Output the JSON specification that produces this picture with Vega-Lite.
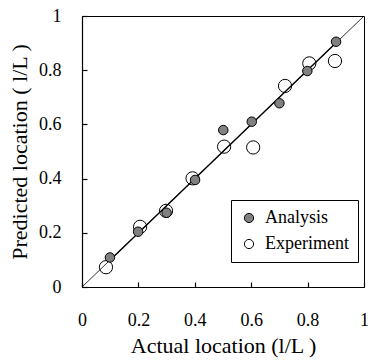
{
  "$schema": "https://vega.github.io/schema/vega-lite/v6.json",
  "width": 282,
  "height": 271,
  "autosize": {"type": "none"},
  "padding": {"left": 82, "top": 16, "right": 4, "bottom": 76},
  "background": "white",
  "config": {
    "font": "Liberation Serif",
    "view": {"stroke": "black", "strokeWidth": 1},
    "axis": {
      "grid": false,
      "zindex": 1,
      "domainColor": "black",
      "domainWidth": 1.2,
      "tickColor": "black",
      "tickWidth": 1.2,
      "tickSize": -5,
      "labelFont": "Liberation Serif",
      "labelFontSize": 18,
      "labelColor": "black",
      "titleFont": "Liberation Serif",
      "titleFontSize": 22,
      "titleFontWeight": "normal",
      "titleColor": "black"
    },
    "legend": {
      "labelFont": "Liberation Serif",
      "labelFontSize": 18,
      "labelColor": "black"
    }
  },
  "datasets": {
    "pts": [
      {"series": "Experiment", "actual": 0.085, "predicted": 0.073},
      {"series": "Experiment", "actual": 0.206, "predicted": 0.222},
      {"series": "Experiment", "actual": 0.298, "predicted": 0.281},
      {"series": "Experiment", "actual": 0.392, "predicted": 0.401},
      {"series": "Experiment", "actual": 0.504, "predicted": 0.518},
      {"series": "Experiment", "actual": 0.607, "predicted": 0.515},
      {"series": "Experiment", "actual": 0.72, "predicted": 0.742},
      {"series": "Experiment", "actual": 0.806, "predicted": 0.825},
      {"series": "Experiment", "actual": 0.897, "predicted": 0.834},
      {"series": "Analysis", "actual": 0.099, "predicted": 0.109},
      {"series": "Analysis", "actual": 0.199, "predicted": 0.204},
      {"series": "Analysis", "actual": 0.3, "predicted": 0.274},
      {"series": "Analysis", "actual": 0.401, "predicted": 0.395},
      {"series": "Analysis", "actual": 0.501, "predicted": 0.579},
      {"series": "Analysis", "actual": 0.602, "predicted": 0.61},
      {"series": "Analysis", "actual": 0.7, "predicted": 0.678},
      {"series": "Analysis", "actual": 0.799, "predicted": 0.797},
      {"series": "Analysis", "actual": 0.901, "predicted": 0.905}
    ],
    "diag": [
      {"actual": 0, "predicted": 0},
      {"actual": 1, "predicted": 1}
    ],
    "fit": [
      {"actual": 0.1, "predicted": 0.1},
      {"actual": 0.9, "predicted": 0.9}
    ]
  },
  "encoding": {
    "x": {
      "field": "actual", "type": "quantitative",
      "scale": {"domain": [0, 1], "nice": false},
      "axis": {"values": [0, 0.2, 0.4, 0.6, 0.8, 1], "format": "~g", "labelPadding": 29, "title": "Actual location (l/L )", "titlePadding": 6, "labelFlush": false}
    },
    "y": {
      "field": "predicted", "type": "quantitative",
      "scale": {"domain": [0, 1], "nice": false},
      "axis": {"values": [0, 0.2, 0.4, 0.6, 0.8, 1], "format": "~g", "labelPadding": 26, "title": "Predicted location ( l/L )", "titlePadding": 7, "labelFlush": false}
    }
  },
  "layer": [
    {
      "data": {"name": "diag"},
      "mark": {"type": "line", "color": "black", "strokeWidth": 0.8}
    },
    {
      "data": {"name": "fit"},
      "mark": {"type": "line", "color": "black", "strokeWidth": 1.4}
    },
    {
      "data": {"name": "pts"},
      "transform": [{"filter": "datum.series === 'Experiment'"}],
      "mark": {"type": "point", "shape": "circle", "filled": true, "stroke": "black", "strokeWidth": 1, "opacity": 1, "size": 175},
      "encoding": {
        "fill": {
          "field": "series", "type": "nominal",
          "scale": {"domain": ["Analysis", "Experiment"], "range": ["#808080", "transparent"]},
          "legend": {
            "title": null,
            "orient": "none",
            "legendX": 149,
            "legendY": 184,
            "direction": "vertical",
            "strokeColor": "black",
            "fillColor": "white",
            "padding": 9,
            "rowPadding": 8,
            "labelOffset": 7,
            "labelFont": "Liberation Serif",
            "symbolType": "circle",
            "symbolSize": 85,
            "symbolStrokeColor": "black",
            "symbolStrokeWidth": 1,
            "symbolOpacity": 1
          }
        }
      }
    },
    {
      "data": {"name": "pts"},
      "transform": [{"filter": "datum.series === 'Analysis'"}],
      "mark": {"type": "point", "shape": "circle", "filled": true, "stroke": "black", "strokeWidth": 1, "opacity": 1, "size": 90},
      "encoding": {
        "fill": {"field": "series", "type": "nominal"}
      }
    }
  ]
}
